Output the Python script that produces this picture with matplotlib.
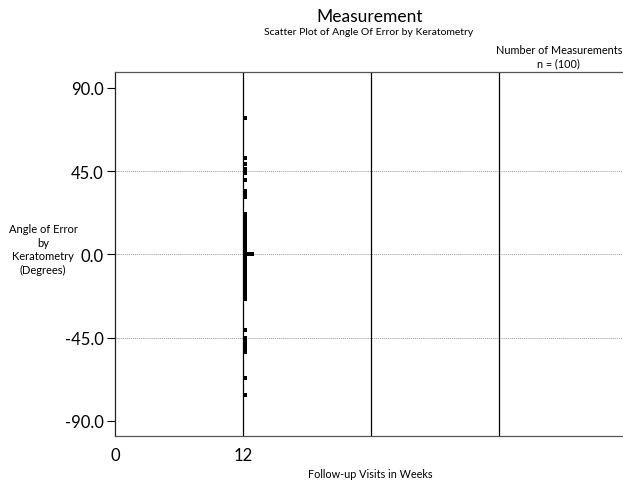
import numpy as np
import matplotlib.pyplot as plt
from collections import Counter

plt.rcParams['font.family'] = ['Lato', 'DejaVu Sans']

# angle of error (degrees) at the 12 week follow-up visit, n = 100
visit_week = 12
angles = [
    74, 52, 49, 46, 45, 44, 40, 34, 33, 31,
    22, 20, 19,
    17, 16, 15, 14, 13.5, 13, 12, 11, 10.5, 10, 9, 8.5, 8, 7, 6.5, 6,
    5, 4.5, 4, 3, 2.5, 2, 1.5, 1, 0.5, 0, 0, 0,
    0.2, 2.2, 3.5, 5.5, 7.5, 9.5, 11.5, 12.5, 1.2, 4.2, 6.2,
    -0.2, -2.5, -4.5, -6.5, -8.5, -9.5, -11.5, -12.5, -1.2, -3.2, -5.2,
    -0.5, -1, -1.5, -2, -3, -3.5, -4, -5, -5.5, -6, -7, -7.5, -8, -9,
    -10, -10.5, -11, -12, -13, -14, -15, -16, -17, -18, -19, -20, -21, -22,
    -24, -41, -45, -47, -49, -51, -53, -67, -76,
]
week_lines = [12, 24, 36]
y_ticks = [90, 45, 0, -45, -90]
x_ticks = [0, 12]

fig = plt.figure(figsize=(6.23, 4.81), dpi=100)
ax = fig.add_axes([115 / 623, 1 - 437 / 481, 508 / 623, 364 / 481])

x_max = 508 / 128 * 12
ax.set_xlim(0, x_max)
ax.set_ylim(-98.2, 98.6)

# stack repeated values side by side like a dot plot
dot_w = 0.33
seen = Counter()
xs = []
for a in angles:
    xs.append(visit_week + dot_w / 2 + seen[a] * dot_w)
    seen[a] += 1
ax.scatter(xs, angles, marker='s', s=7, color='black', linewidths=0, zorder=3)

for w in week_lines:
    ax.axvline(w, color='black', lw=0.9, zorder=2)
for g in [45, 0, -45]:
    ax.axhline(g, color='#999999', lw=0.7, ls=(0, (1, 1)), zorder=1)

ax.spines['right'].set_visible(False)
for s in ['top', 'bottom']:
    ax.spines[s].set_color('#555555')
    ax.spines[s].set_linewidth(0.9)
ax.spines['left'].set_color('#222222')
ax.spines['left'].set_linewidth(0.9)

ax.set_yticks(y_ticks)
ax.set_yticklabels([f"{v:.1f}" for v in y_ticks], fontsize=12)
ax.set_xticks(x_ticks)
ax.set_xticklabels([str(v) for v in x_ticks], fontsize=12)
ax.tick_params(axis='y', length=6, width=0.8, pad=2)
ax.tick_params(axis='x', length=0, pad=8)

fig.text(370 / 623, 1 - 17 / 481, "Measurement", ha='center', va='center', fontsize=12.5)
fig.text(369 / 623, 1 - 33 / 481, "Scatter Plot of Angle Of Error by Keratometry",
         ha='center', va='center', fontsize=7.5)
fig.text(622 / 623, 1 - 51 / 481, "Number of Measurements", ha='right', va='center', fontsize=7.8)
fig.text(558 / 623, 1 - 64 / 481, "n = (100)", ha='center', va='center', fontsize=7.8)
fig.text(43 / 623, 1 - 250 / 481, "Angle of Error\nby\nKeratometry\n(Degrees)",
         ha='center', va='center', fontsize=8, linespacing=1.3)
fig.text(370 / 623, 1 - 475 / 481, "Follow-up Visits in Weeks", ha='center', va='center', fontsize=7.8)

fig.savefig("out.png", dpi=100)
